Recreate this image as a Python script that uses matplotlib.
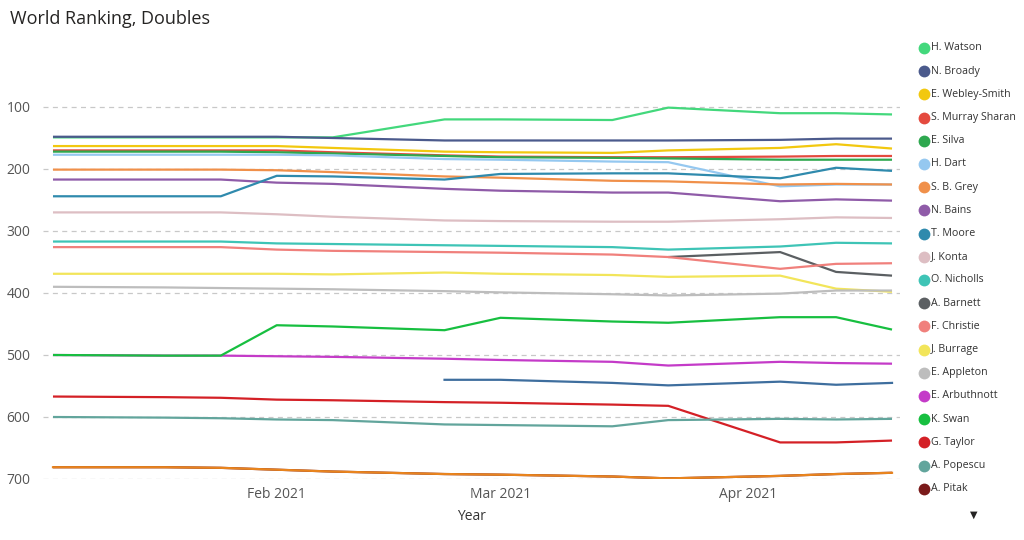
import numpy as np
import pandas as pd
import matplotlib
matplotlib.use("Agg")
import matplotlib.pyplot as plt
import matplotlib.dates as mdates
from matplotlib.lines import Line2D

# ---------------- data ----------------
dates = ["2021-01-04", "2021-01-18", "2021-01-25", "2021-02-01", "2021-02-08",
         "2021-02-22", "2021-03-01", "2021-03-15", "2021-03-22", "2021-04-05",
         "2021-04-12", "2021-04-19"]

nan = np.nan
watson      = [149, 149, 149, 149, 149, 120, 120, 121, 101, 110, 110, 112]
broady      = [148, 148, 148, 148, 150, 154, 154, 154, 154, 153, 151, 151]
webley      = [163, 163, 163, 163, 166, 172, 173, 174, 170, 166, 160, 167]
murray      = [170, 170, 170, 170, 173, 178, 180, 181, 181, 180, 179, 179]
silva       = [172, 172, 172, 173, 175, 179, 181, 182, 183, 185, 185, 185]
dart        = [177, 177, 177, 177, 178, 184, 185, 188, 189, 228, 225, 225]
grey        = [201, 201, 201, 202, 205, 212, 214, 219, 220, 225, 224, 225]
bains       = [217, 217, 217, 222, 224, 232, 235, 238, 238, 252, 249, 251]
moore       = [244, 244, 244, 211, 212, 217, 208, 207, 207, 215, 198, 203]
konta       = [270, 270, 270, 273, 277, 283, 284, 285, 285, 281, 278, 279]
nicholls    = [317, 317, 317, 320, 321, 323, 324, 326, 330, 325, 319, 320]
barnett     = [nan, nan, nan, nan, nan, nan, nan, nan, 342, 334, 366, 372]
christie    = [326, 326, 326, 330, 332, 334, 335, 338, 342, 361, 353, 352]
burrage     = [369, 369, 369, 369, 370, 367, 369, 371, 374, 372, 393, 398]
appleton    = [390, 391, 392, 393, 394, 397, 399, 402, 404, 401, 396, 396]
arbuthnott  = [500, 501, 501, 502, 503, 506, 508, 511, 517, 511, 513, 514]
swan        = [500, 501, 501, 452, 454, 460, 440, 446, 448, 439, 439, 459]
taylor      = [567, 568, 569, 572, 573, 576, 577, 580, 582, 641, 641, 638]
popescu     = [600, 601, 602, 604, 605, 612, 613, 615, 605, 603, 604, 603]
pitak       = [681, 681, 682, 685, 688, 692, 693, 696, 699, 695, 692, 690]
# two further series that sit beyond the visible (scrolling) legend
other_blue   = [nan, nan, nan, nan, nan, 540, 540, 545, 549, 543, 548, 545]
other_orange = [681, 681, 682, 685, 688, 692, 693, 696, 699, 695, 692, 690]

names = ["H. Watson", "N. Broady", "E. Webley-Smith", "S. Murray Sharan", "E. Silva",
         "H. Dart", "S. B. Grey", "N. Bains", "T. Moore", "J. Konta", "O. Nicholls",
         "A. Barnett", "F. Christie", "J. Burrage", "E. Appleton", "E. Arbuthnott",
         "K. Swan", "G. Taylor", "A. Popescu", "A. Pitak"]
series = [watson, broady, webley, murray, silva, dart, grey, bains, moore, konta,
          nicholls, barnett, christie, burrage, appleton, arbuthnott, swan, taylor,
          popescu, pitak]
colors = ["#43D87C", "#4B5A8C", "#F2C80F", "#E44A3F", "#2EA84F", "#95C8F0", "#F0904A",
          "#8F5BA8", "#2F8AAD", "#DDBEC3", "#3EC4B6", "#5B5F62", "#F0807C", "#F2E55A",
          "#BDBDBD", "#C43BC8", "#17BF40", "#D42026", "#62A59C", "#7A1A1A"]
extra_series = [other_blue, other_orange]
extra_colors = ["#3E6E9E", "#E8841E"]

# ---------------- figure ----------------
plt.rcParams['font.family'] = ['Open Sans', 'DejaVu Sans']
W, H = 1024, 540
fig = plt.figure(figsize=(W / 100, H / 100), dpi=100)
fig.patch.set_facecolor("white")

ax_left, ax_right = 43, 900
ax_top, ax_bottom = 76, 479
ax = fig.add_axes([ax_left / W, 1 - ax_bottom / H, (ax_right - ax_left) / W,
                   (ax_bottom - ax_top) / H])

x = pd.to_datetime(dates)
for vals, c in zip(series, colors):
    ax.plot(x, vals, color=c, lw=1.6, solid_capstyle="butt", zorder=3)
for vals, c in zip(extra_series, extra_colors):
    ax.plot(x, vals, color=c, lw=1.6, zorder=3)

ax.set_ylim(700, 50)
ax.set_yticks([100, 200, 300, 400, 500, 600, 700])
ax.set_xlim(pd.Timestamp("2021-01-02 18:00"), pd.Timestamp("2021-04-20 00:00"))
ax.xaxis.set_major_locator(mdates.MonthLocator(bymonthday=1))
ax.xaxis.set_major_formatter(mdates.DateFormatter("%b %Y"))

ax.grid(axis="y", color="#C8C8C8", linestyle=(0, (4, 3.5)), lw=0.9, zorder=0)
ax.grid(axis="x", visible=False)
for s in ax.spines.values():
    s.set_visible(False)
ax.tick_params(axis="both", length=0, labelsize=10, labelcolor="#555555")
ax.tick_params(axis="y", pad=9)
ax.tick_params(axis="x", pad=6)

ax.set_xlabel("Year", fontsize=10, color="#333333", labelpad=5)

fig.text(10 / W, 1 - 19 / H, "World Ranking, Doubles", fontsize=13, color="#252423",
         va="center", ha="left")

# legend (manual, Power BI style)
y0, step = 48, 23.2
for i, (n, c) in enumerate(zip(names, colors)):
    yy = 1 - (y0 + i * step) / H
    fig.add_artist(Line2D([924 / W], [yy], marker="o", markersize=8.5, color=c,
                          markeredgewidth=0, transform=fig.transFigure))
    fig.text(931 / W, yy, n, fontsize=7.7, color="#333333", va="center", ha="left")

fig.text(974 / W, 1 - 515 / H, "\u25BC", fontsize=7, color="#252423", va="center",
         ha="center", family="DejaVu Sans")

fig.savefig("out.png", dpi=100, facecolor="white")
